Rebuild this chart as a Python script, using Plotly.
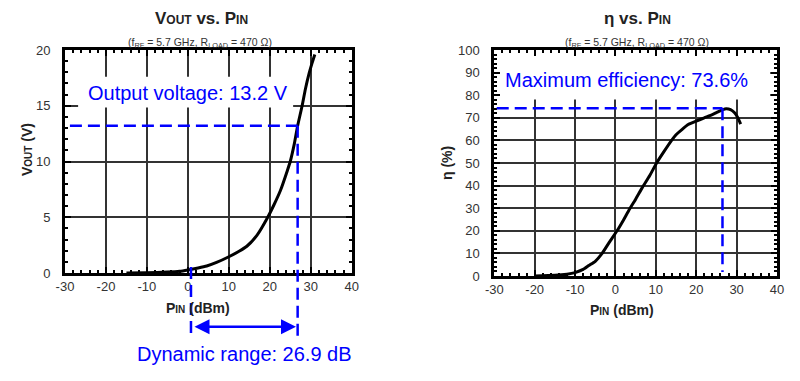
import plotly.graph_objects as go

# ---------------- data ----------------
vout_pin = [-15, -10, -5, -2, 0, 2.5, 4.6, 7, 10, 12.5, 14.4, 16.9, 19.5, 21, 22.6,
            24.3, 25, 26, 26.8, 27.9, 28.7, 29.6, 30.3, 31]
vout = [0.0, 0.03, 0.08, 0.15, 0.27, 0.45, 0.63, 0.95, 1.46, 1.95, 2.4, 3.4, 5.0, 6.1, 7.4,
        9.2, 10.0, 11.6, 13.2, 15.0, 16.5, 17.9, 18.8, 19.6]

eta_pin = [-20, -15, -12, -10, -8, -6.6, -5, -3.3, -1.5, 0.4, 2, 3.3, 5, 6.6, 8.5, 10.2,
           12, 13.9, 15, 16.6, 18, 20, 22, 23.7, 25, 26.6, 27.4, 28.5, 29.5, 30.3, 31]
eta = [0, 0.3, 0.8, 1.5, 2.9, 4.6, 6.5, 10, 15, 20, 24.8, 29, 34, 39, 44.5, 50,
       55, 60, 62.5, 65, 67, 68.5, 70, 71.2, 72.3, 73.6, 74.0, 73.6, 72.2, 70, 67.2]

x_ticks = [-30, -20, -10, 0, 10, 20, 30, 40]
x_ticktext = ["-30", "-20", "-10", "0", "10", "20", "30", "40"]
v_ticks = [0, 5, 10, 15, 20]
eta_ticks = [0, 10, 20, 30, 40, 50, 60, 70, 80, 90, 100]

out_voltage = 13.2
out_pin = 26.8
dr_start = 0.76
max_eff_line = 74.2
max_eff_pin = 26.5

# ---------------- geometry helpers ----------------
W, H = 800, 381
ML, MR, MT, MB = 65, 23, 50, 105
PW, PH = W - ML - MR, H - MT - MB


def px(xp):
    return (xp - ML) / PW


def py(yp):
    return (H - MB - yp) / PH


FONT = "Arial, Liberation Sans, sans-serif"
BLUE = "#0000ff"
TXT = "#333333"

fig = go.Figure()
fig.add_trace(go.Scatter(x=vout_pin, y=vout, mode="lines", xaxis="x", yaxis="y",
                         line=dict(color="black", width=3, shape="spline", smoothing=0.5),
                         showlegend=False, hoverinfo="skip"))
fig.add_trace(go.Scatter(x=eta_pin, y=eta, mode="lines", xaxis="x2", yaxis="y2",
                         line=dict(color="black", width=3, shape="spline", smoothing=0.5),
                         showlegend=False, hoverinfo="skip"))

left_dom_y0 = py(273)


def axis_common(**kw):
    d = dict(showline=True, linecolor="black", linewidth=3, mirror="ticks",
             ticks="inside", ticklen=6, tickcolor="black", tickwidth=1.5,
             showgrid=True, gridcolor="#333333", gridwidth=1.5, zeroline=False,
             automargin=False,
             tickfont=dict(family=FONT, size=13, color=TXT), fixedrange=True)
    d.update(kw)
    return d


fig.update_layout(
    width=W, height=H, margin=dict(l=ML, r=MR, t=MT, b=MB, autoexpand=False),
    paper_bgcolor="white", plot_bgcolor="white", showlegend=False,
    xaxis=axis_common(domain=[0, px(351.7)], anchor="y", range=[-30, 40],
                      tickvals=x_ticks, ticktext=x_ticktext, ticklabelstandoff=-1,
                      minor=dict(ticks="inside", ticklen=3, dtick=2, tick0=0, tickcolor="black", showgrid=False)),
    yaxis=axis_common(domain=[left_dom_y0, 1], anchor="x", range=[0, 20],
                      tickvals=v_ticks, ticklabelstandoff=9,
                      minor=dict(ticks="inside", ticklen=3, dtick=1, tick0=0, tickcolor="black", showgrid=False)),
    xaxis2=axis_common(domain=[px(494.3), 1], anchor="y2", range=[-30, 40],
                       tickvals=x_ticks, ticktext=x_ticktext, ticklabelstandoff=-1,
                       minor=dict(ticks="inside", ticklen=3, dtick=2, tick0=0, tickcolor="black", showgrid=False)),
    yaxis2=axis_common(domain=[0, 1], anchor="x2", range=[0, 100],
                       tickvals=eta_ticks, ticklabelstandoff=9,
                       minor=dict(ticks="inside", ticklen=3, dtick=2, tick0=0, tickcolor="black", showgrid=False)),
)

shapes = []
# white boxes behind callout texts
shapes.append(dict(type="rect", xref="x", yref="y", x0=-26.8, x1=25.7, y0=14.85, y1=17.6,
                   fillcolor="white", line=dict(width=0), layer="between"))
shapes.append(dict(type="rect", xref="x2", yref="y2", x0=-28.6, x1=38.3, y0=78.1, y1=99.6,
                   fillcolor="white", line=dict(width=0), layer="between"))

dash = dict(color=BLUE, width=2.5, dash="12px,6px")
# left plot guides
shapes.append(dict(type="line", xref="x", yref="y", x0=-28.8, x1=out_pin, y0=out_voltage, y1=out_voltage,
                   line=dash, layer="above"))
y_out_paper = left_dom_y0 + (out_voltage / 20) * (1 - left_dom_y0)
shapes.append(dict(type="line", xref="x", yref="paper", x0=out_pin, x1=out_pin,
                   y0=y_out_paper, y1=py(337), line=dash, layer="above"))
shapes.append(dict(type="line", xref="x", yref="paper", x0=dr_start, x1=dr_start,
                   y0=py(267), y1=py(337), line=dash, layer="above"))
# right plot guides
shapes.append(dict(type="line", xref="x2", yref="y2", x0=-29.4, x1=max_eff_pin, y0=max_eff_line, y1=max_eff_line,
                   line=dash, layer="above"))
shapes.append(dict(type="line", xref="x2", yref="y2", x0=max_eff_pin, x1=max_eff_pin, y0=max_eff_line, y1=1.8,
                   line=dash, layer="above"))
fig.update_layout(shapes=shapes)

SC = "<span style='font-size:12px'>"
ann = []
title_font = dict(family=FONT, size=17, color="#222222")
ann.append(dict(x=px(201), y=py(19), text="<b>V" + SC + "OUT</span> vs. P" + SC + "IN</span></b>",
                font=title_font))
ann.append(dict(x=px(637), y=py(19), text="<b>η vs. P" + SC + "IN</span></b>", font=title_font))
for cx in (200, 637):
    ann.append(dict(x=px(cx), y=py(43), text="(f<sub>RF</sub> = 5.7 GHz, R<sub>LOAD</sub> = 470 Ω)",
                    font=dict(family=FONT, size=10.5, color=TXT)))
# axis titles
SCa = "<span style='font-size:10px'>"
ax_font = dict(family=FONT, size=14, color="#222222")
ann.append(dict(x=px(198), y=py(308), text="<b>P" + SCa + "IN</span> (dBm)</b>", font=ax_font))
ann.append(dict(x=px(622), y=py(310), text="<b>P" + SCa + "IN</span> (dBm)</b>", font=ax_font))
ann.append(dict(x=px(27), y=py(150), text="<b>V" + SCa + "OUT</span> (V)</b>", textangle=-90, font=ax_font))
ann.append(dict(x=px(447), y=py(163), text="<b>η (%)</b>", textangle=-90, font=ax_font))
for a in ann:
    a.update(xref="paper", yref="paper", showarrow=False, xanchor="center", yanchor="middle")

# blue callouts
blue_font = dict(family=FONT, size=20, color=BLUE)
ann.append(dict(x=px(86), y=py(93), xref="paper", yref="paper", text="Output voltage: 13.2 V",
                showarrow=False, xanchor="left", yanchor="middle", font=blue_font))
ann.append(dict(x=px(502.7), y=py(80), xref="paper", yref="paper", text="Maximum efficiency: 73.6%",
                showarrow=False, xanchor="left", yanchor="middle", font=blue_font))
ann.append(dict(x=px(135), y=py(353.5), xref="paper", yref="paper", text="Dynamic range: 26.9 dB",
                showarrow=False, xanchor="left", yanchor="middle", font=blue_font))
# double arrow for dynamic range
ann.append(dict(x=26.4, y=py(326.7), xref="x", yref="paper", text="", showarrow=True,
                ax=-103, ay=0, arrowhead=2, startarrowhead=2, arrowside="end+start",
                arrowwidth=2.5, arrowsize=1.2, startarrowsize=1.2, arrowcolor=BLUE, standoff=0, startstandoff=0))
fig.update_layout(annotations=ann)

fig.write_html("out.html", config={"displayModeBar": False},
               post_script="document.body.style.margin='0';document.body.style.overflow='hidden';")
